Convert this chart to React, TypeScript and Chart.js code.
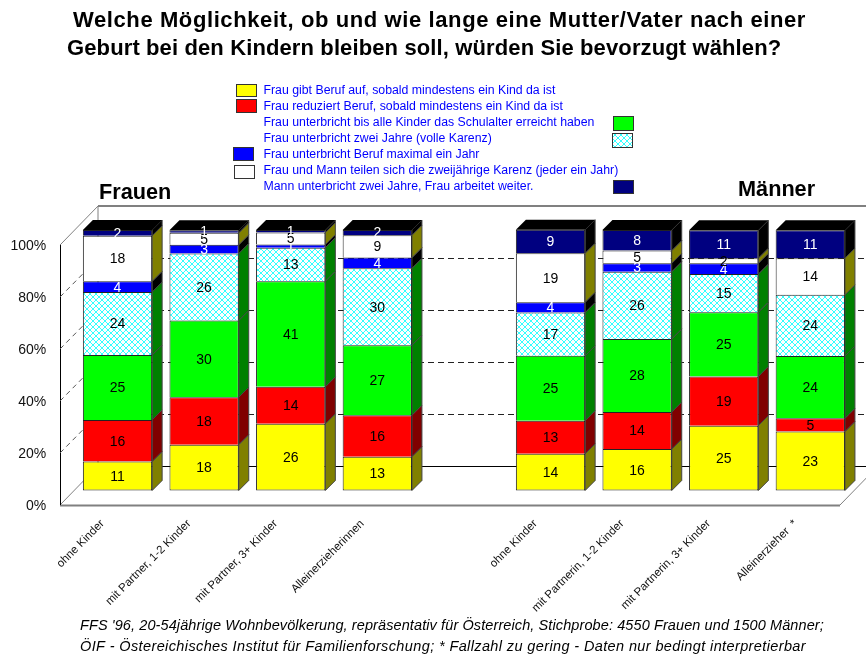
import React, { useEffect, useRef } from "react";
import { Chart, registerables } from "chart.js";

Chart.register(...registerables);

const categories = [
  "ohne Kinder",
  "mit Partner, 1-2 Kinder",
  "mit Partner, 3+ Kinder",
  "Alleinerzieherinnen",
  "",
  "ohne Kinder",
  "mit Partnerin, 1-2 Kinder",
  "mit Partnerin, 3+ Kinder",
  "Alleinerzieher  *",
];

const berufAuf = [11.1, 17.6, 25.6, 13.0, null, 14.1, 15.9, 24.9, 22.6];
const reduziert = [16.0, 18.2, 14.2, 15.9, null, 12.7, 14.2, 18.9, 5.1];
const bisSchulalter = [24.9, 29.5, 40.5, 26.9, null, 24.9, 28.1, 24.6, 23.9];
const zweiJahre = [24.2, 25.7, 12.9, 29.5, null, 16.6, 25.8, 14.7, 23.5];
const maximalEinJahr = [4.1, 3.3, 1.2, 4.1, null, 4.0, 3.2, 4.1, 0];
const teilen = [17.5, 4.6, 4.6, 8.6, null, 18.8, 4.9, 2.0, 14.1];
const mannZweiJahre = [2.2, 1.0, 1.0, 2.0, null, 9.0, 7.9, 10.7, 10.7];

const legendLabels = [
  "Frau gibt Beruf auf, sobald mindestens ein Kind da ist",
  "Frau reduziert Beruf, sobald mindestens ein Kind da ist",
  "Frau unterbricht bis alle Kinder das Schulalter erreicht haben",
  "Frau unterbricht zwei Jahre (volle Karenz)",
  "Frau unterbricht Beruf maximal ein Jahr",
  "Frau und Mann teilen sich die zweijährige Karenz (jeder ein Jahr)",
  "Mann unterbricht zwei Jahre, Frau arbeitet weiter.",
];

const titleLines = [
  "Welche Möglichkeit, ob und wie lange eine Mutter/Vater nach einer",
  "Geburt bei den Kindern bleiben soll, würden Sie bevorzugt wählen?",
];
const footerLines = [
  "FFS '96, 20-54jährige Wohnbevölkerung, repräsentativ für Österreich, Stichprobe: 4550 Frauen und 1500 Männer;",
  "ÖIF - Östereichisches Institut für Familienforschung; * Fallzahl zu gering - Daten nur bedingt interpretierbar",
];
const groupLabels = ["Frauen", "Männer"];

const seriesValues = [berufAuf, reduziert, bisSchulalter, zweiJahre, maximalEinJahr, teilen, mannZweiJahre];

const FONT = '"Liberation Sans", Arial, sans-serif';
const HATCH = "hatch";
const faceColors = ["#ffff00", "#ff0000", "#00ff00", HATCH, "#0000ff", "#ffffff", "#000080"];
const sideColors = ["#808000", "#800000", "#008000", "#008000", "#000000", "#808000", "#000000"];
const labelColors = ["#000", "#000", "#000", "#000", "#fff", "#000", "#fff"];

// layout of the pseudo-3D frame
const BAR_DEPTH = 10;
const WALL_DX = 38;
const WALL_DY = 39;
const WALL_LEFT = 60;
const FLOOR_RIGHT = 840;

// legend swatch boxes [x, y, w, h] and text baselines
const legendSwatches = [
  [236, 84, 20, 12],
  [236, 99, 20, 13],
  [613, 116, 20, 14],
  [612, 133, 20, 14],
  [233, 147, 20, 13],
  [234, 165, 20, 13],
  [613, 180, 20, 13],
];
const LEGEND_X = 263.5;
const LEGEND_Y0 = 93.5;
const LEGEND_STEP = 16.1;

function makeHatch(ctx: CanvasRenderingContext2D) {
  const c = document.createElement("canvas");
  c.width = 6;
  c.height = 6;
  const g = c.getContext("2d")!;
  g.fillStyle = "#fff";
  g.fillRect(0, 0, 6, 6);
  g.fillStyle = "#33ffff";
  for (let i = 0; i < 6; i++) {
    g.fillRect(i, i, 1, 1);
    g.fillRect(5 - i, i, 1, 1);
  }
  return ctx.createPattern(c, "repeat")!;
}

const framePlugin = {
  id: "frame3d",
  beforeDatasetsDraw(chart: any) {
    const { ctx, scales } = chart;
    const axis = scales.yAxis;
    const base = axis.getPixelForValue(0);
    const top = axis.getPixelForValue(100);
    ctx.save();
    // walls
    ctx.strokeStyle = "#808080";
    ctx.lineWidth = 1;
    ctx.beginPath();
    ctx.moveTo(WALL_LEFT, top);
    ctx.lineTo(WALL_LEFT + WALL_DX, top - WALL_DY);
    ctx.moveTo(WALL_LEFT + WALL_DX, top - WALL_DY);
    ctx.lineTo(WALL_LEFT + WALL_DX, base - WALL_DY);
    ctx.moveTo(WALL_LEFT, base);
    ctx.lineTo(WALL_LEFT + WALL_DX, base - WALL_DY);
    ctx.moveTo(FLOOR_RIGHT, base);
    ctx.lineTo(FLOOR_RIGHT + WALL_DX, base - WALL_DY);
    ctx.stroke();
    ctx.lineWidth = 2;
    ctx.beginPath();
    ctx.moveTo(WALL_LEFT + WALL_DX, top - WALL_DY);
    ctx.lineTo(866, top - WALL_DY);
    ctx.moveTo(WALL_LEFT, base + 0.5);
    ctx.lineTo(FLOOR_RIGHT, base + 0.5);
    ctx.stroke();
    ctx.strokeStyle = "#000";
    ctx.lineWidth = 1;
    ctx.beginPath();
    ctx.moveTo(WALL_LEFT + 0.5, top);
    ctx.lineTo(WALL_LEFT + 0.5, base);
    ctx.moveTo(WALL_LEFT + WALL_DX, Math.round(base - WALL_DY) + 0.5);
    ctx.lineTo(866, Math.round(base - WALL_DY) + 0.5);
    ctx.stroke();
    // dashed gridlines
    [20, 40, 60, 80].forEach((v) => {
      const y = axis.getPixelForValue(v);
      const wallY = Math.round(y - WALL_DY) + 0.5;
      ctx.setLineDash([5, 4]);
      ctx.strokeStyle = "#555";
      ctx.beginPath();
      ctx.moveTo(WALL_LEFT, y);
      ctx.lineTo(WALL_LEFT + WALL_DX, wallY);
      ctx.stroke();
      ctx.setLineDash([6, 4]);
      ctx.strokeStyle = "#222";
      ctx.beginPath();
      ctx.moveTo(WALL_LEFT + WALL_DX, wallY);
      ctx.lineTo(866, wallY);
      ctx.stroke();
    });
    ctx.setLineDash([]);
    // bar sides and tops
    chart.data.datasets.forEach((_: any, d: number) => {
      chart.getDatasetMeta(d).data.forEach((bar: any, i: number) => {
        if (seriesValues[d][i] == null || !seriesValues[d][i]) return;
        const right = bar.x + bar.width / 2;
        ctx.fillStyle = sideColors[d];
        ctx.strokeStyle = "#444";
        ctx.beginPath();
        ctx.moveTo(right, bar.base);
        ctx.lineTo(right + BAR_DEPTH, bar.base - BAR_DEPTH);
        ctx.lineTo(right + BAR_DEPTH, bar.y - BAR_DEPTH);
        ctx.lineTo(right, bar.y);
        ctx.closePath();
        ctx.fill();
        ctx.stroke();
        if (d === chart.data.datasets.length - 1) {
          const left = bar.x - bar.width / 2;
          ctx.fillStyle = "#000";
          ctx.beginPath();
          ctx.moveTo(left, bar.y);
          ctx.lineTo(left + BAR_DEPTH, bar.y - BAR_DEPTH);
          ctx.lineTo(right + BAR_DEPTH, bar.y - BAR_DEPTH);
          ctx.lineTo(right, bar.y);
          ctx.closePath();
          ctx.fill();
        }
      });
    });
    ctx.restore();
  },
  afterDatasetsDraw(chart: any) {
    const { ctx } = chart;
    ctx.save();
    ctx.textAlign = "center";
    ctx.textBaseline = "middle";
    ctx.font = `14px ${FONT}`;
    chart.data.datasets.forEach((_: any, d: number) => {
      chart.getDatasetMeta(d).data.forEach((bar: any, i: number) => {
        const v = seriesValues[d][i];
        if (!v) return;
        ctx.fillStyle = labelColors[d];
        ctx.fillText(String(Math.round(v)), bar.x, (bar.y + bar.base) / 2 + 1);
      });
    });
    ctx.restore();
  },
  afterDraw(chart: any) {
    const { ctx } = chart;
    ctx.save();
    ctx.textBaseline = "alphabetic";
    ctx.textAlign = "left";
    // title
    ctx.fillStyle = "#000";
    ctx.font = `bold 22px ${FONT}`;
    ctx.letterSpacing = "0.6px";
    ctx.fillText(titleLines[0], 73, 27);
    ctx.letterSpacing = "0.12px";
    ctx.fillText(titleLines[1], 67, 55);
    ctx.letterSpacing = "0px";
    // group headings
    ctx.font = `bold 21.7px ${FONT}`;
    ctx.fillText(groupLabels[0], 99, 198.5);
    ctx.fillText(groupLabels[1], 738, 195.5);
    // legend
    ctx.font = `12.3px ${FONT}`;
    legendLabels.forEach((t, i) => {
      ctx.fillStyle = "#0000ff";
      ctx.fillText(t, LEGEND_X, LEGEND_Y0 + i * LEGEND_STEP);
      const [x, y, w, h] = legendSwatches[i];
      const c = faceColors[i];
      ctx.fillStyle = c === HATCH ? makeHatch(ctx) : c;
      ctx.fillRect(x, y, w, h);
      ctx.strokeStyle = "#333";
      ctx.lineWidth = 1;
      ctx.strokeRect(x + 0.5, y + 0.5, w, h);
    });
    // footer
    ctx.fillStyle = "#000";
    ctx.font = `italic 14.5px ${FONT}`;
    ctx.letterSpacing = "0.1px";
    ctx.fillText(footerLines[0], 80, 630);
    ctx.letterSpacing = "0.38px";
    ctx.fillText(footerLines[1], 80, 651);
    ctx.letterSpacing = "0px";
    ctx.restore();
  },
};

export default function App() {
  const ref = useRef<HTMLCanvasElement>(null);
  useEffect(() => {
    const canvas = ref.current!;
    const ctx = canvas.getContext("2d")!;
    const hatch = makeHatch(ctx);
    const chart = new Chart(canvas, {
      type: "bar",
      data: {
        labels: categories,
        datasets: seriesValues.map((data, i) => ({
          label: legendLabels[i],
          data,
          backgroundColor: faceColors[i] === HATCH ? hatch : faceColors[i],
          borderColor: "#222",
          borderWidth: { top: 1, left: 1, right: 1, bottom: i === 0 ? 1 : 0 },
          borderSkipped: false,
          categoryPercentage: 1,
          barPercentage: 0.8,
          yAxisID: "y",
        })),
      } as any,
      options: {
        animation: false,
        responsive: false,
        layout: { padding: { top: 205, right: 12.4, left: 0, bottom: 0 } },
        plugins: { legend: { display: false }, title: { display: false }, tooltip: { enabled: false } },
        scales: {
          x: {
            stacked: true,
            grid: { display: false },
            border: { display: false },
            afterFit: (s: any) => {
              s.height = 150;
            },
            ticks: {
              autoSkip: false,
              minRotation: 45,
              maxRotation: 45,
              padding: 4,
              labelOffset: -15,
              color: "#111",
              font: { family: FONT, size: 11.5 },
            },
          },
          y: {
            stacked: true,
            display: false,
            min: -5.57,
            max: 109.6,
          },
          yAxis: {
            position: "left",
            min: 0,
            max: 115.4,
            grid: { display: false },
            border: { display: false },
            afterFit: (s: any) => {
              s.width = 74.2;
            },
            ticks: {
              stepSize: 20,
              includeBounds: false,
              padding: 20,
              labelOffset: 1,
              color: "#111",
              font: { family: FONT, size: 14 },
              callback: (v: any) => `${v}%`,
            },
          },
        },
      } as any,
      plugins: [framePlugin],
    });
    return () => chart.destroy();
  }, []);
  return (
    <div style={{ position: "absolute", left: 0, top: 0, width: 866, height: 655, overflow: "hidden", background: "#fff" }}>
      <canvas ref={ref} width={866} height={655} style={{ display: "block", width: 866, height: 655 }} />
    </div>
  );
}
